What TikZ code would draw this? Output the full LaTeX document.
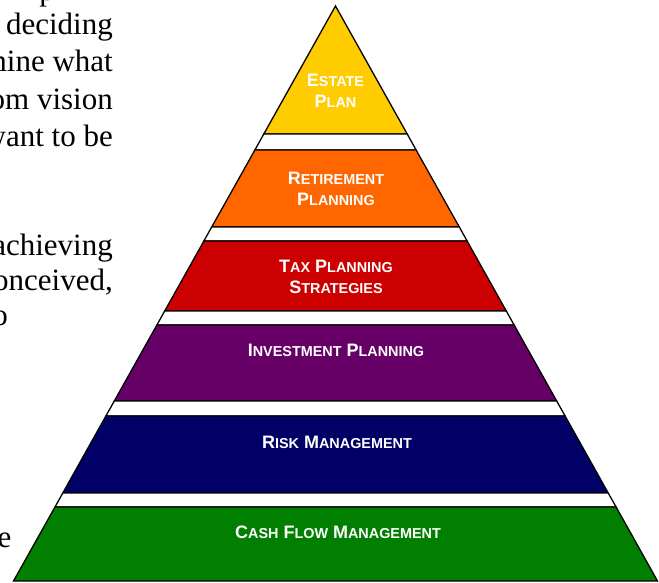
\documentclass[tikz,border=0pt]{standalone}
\usepackage{fontspec}
\setmainfont{Liberation Serif}
\newfontfamily\pyrfont{Liberation Sans}

\definecolor{estatecol}{HTML}{FFCC00}
\definecolor{retirecol}{HTML}{FF6600}
\definecolor{taxcol}{HTML}{CC0000}
\definecolor{investcol}{HTML}{660066}
\definecolor{riskcol}{HTML}{000066}
\definecolor{cashcol}{HTML}{007F00}

% small capitals made by hand
\newcommand\smc[1]{{\fontsize{14.4}{21}\selectfont #1}}

\begin{document}
\begin{tikzpicture}[x=1pt,y=-1pt,
	band/.style={draw=black,line width=1.3pt},
	gap/.style={band,fill=white},
	lbl/.style={text=white,font=\pyrfont\bfseries\fontsize{18}{21}\selectfont,align=center,inner sep=0pt},
	body/.style={font=\fontsize{31}{37}\selectfont,anchor=base east,inner sep=0pt}]

				\useasboundingbox (0,0) rectangle (659,582);
				\clip (0,0) rectangle (659,582);

				% text of the page beside the pyramid
				\node[body] (t0) at (55,0) {p};
				\node[body] (t1) at (113,34) {deciding};
				\node[body] (t2) at (113,71.5) {mine what};
				\node[body] (t3) at (113,109) {om vision};
				\node[body] (t4) at (113,146.5) {want to be};
				\node[body] (t5) at (113,255) {achieving};
				\node[body] (t6) at (113,290) {onceived,};
				\node[body] (t7) at (8,325) {to};
				\node[body] (t8) at (11.5,547) {e};

				% the bands, top to bottom
				\draw[band,fill=estatecol] (335.5,6) -- (407.2,134) -- (263.8,134) -- cycle;
				\draw[gap] (263.8,134) -- (407.2,134) -- (416.1,150) -- (254.9,150) -- cycle;
				\draw[band,fill=retirecol] (254.9,150) -- (416.1,150) -- (459.3,227) -- (211.7,227) -- cycle;
				\draw[gap] (211.7,227) -- (459.3,227) -- (467.1,241) -- (203.9,241) -- cycle;
				\draw[band,fill=taxcol] (203.9,241) -- (467.1,241) -- (506.3,311) -- (164.7,311) -- cycle;
				\draw[gap] (164.7,311) -- (506.3,311) -- (514.1,325) -- (156.9,325) -- cycle;
				\draw[band,fill=investcol] (156.9,325) -- (514.1,325) -- (556.7,401) -- (114.3,401) -- cycle;
				\draw[gap] (114.3,401) -- (556.7,401) -- (565.1,416) -- (105.9,416) -- cycle;
				\draw[band,fill=riskcol] (105.9,416) -- (565.1,416) -- (608.2,493) -- (62.8,493) -- cycle;
				\draw[gap] (62.8,493) -- (608.2,493) -- (616.1,507) -- (55.0,507) -- cycle;
				\draw[band,fill=cashcol] (55.0,507) -- (616.1,507) -- (657.5,581) -- (13.5,581) -- cycle;

				% labels
				\node[lbl] (estate) at (335.5,90.5) {E\smc{STATE}\\P\smc{LAN}};
				\node[lbl] (retire) at (336,189) {R\smc{ETIREMENT}\\P\smc{LANNING}};
				\node[lbl] (tax) at (336,276.5) {T\smc{AX} P\smc{LANNING}\\S\smc{TRATEGIES}};
				\node[lbl] (invest) at (336,350) {I\smc{NVESTMENT} P\smc{LANNING}};
				\node[lbl] (risk) at (337,442) {R\smc{ISK} M\smc{ANAGEMENT}};
				\node[lbl] (cash) at (338,532) {C\smc{ASH} F\smc{LOW} M\smc{ANAGEMENT}};

				\end{tikzpicture}
\end{document}
